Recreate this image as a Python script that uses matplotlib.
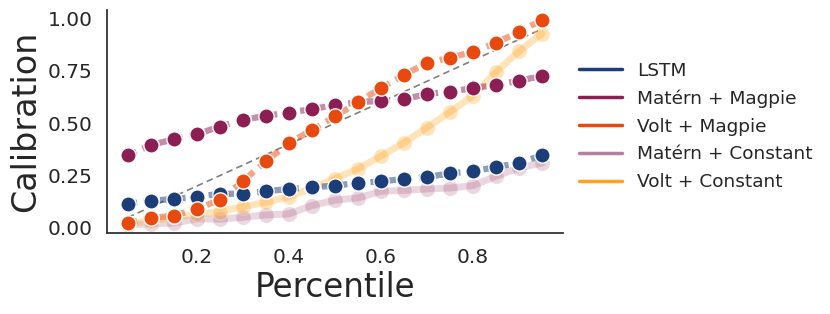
import matplotlib
matplotlib.use("Agg")
import matplotlib.pyplot as plt
import seaborn as sns
from matplotlib.lines import Line2D

sns.set_style("white")
plt.rcParams['font.family'] = ['DejaVu Sans']

percentile = [0.05, 0.10, 0.15, 0.20, 0.25, 0.30, 0.35, 0.40, 0.45, 0.50,
              0.55, 0.60, 0.65, 0.70, 0.75, 0.80, 0.85, 0.90, 0.95]

lstm = [0.115, 0.130, 0.138, 0.149, 0.163, 0.163, 0.175, 0.186, 0.194, 0.202,
        0.215, 0.222, 0.234, 0.244, 0.260, 0.271, 0.290, 0.311, 0.346]
matern_magpie = [0.346, 0.396, 0.423, 0.447, 0.484, 0.516, 0.535, 0.551, 0.567, 0.587,
                 0.600, 0.607, 0.615, 0.639, 0.651, 0.667, 0.683, 0.703, 0.725]
volt_magpie = [0.025, 0.047, 0.059, 0.090, 0.135, 0.223, 0.319, 0.404, 0.468, 0.532,
               0.600, 0.667, 0.731, 0.787, 0.813, 0.840, 0.883, 0.936, 0.992]
matern_const = [0.015, 0.020, 0.024, 0.043, 0.042, 0.051, 0.062, 0.067, 0.107, 0.133,
                0.143, 0.175, 0.179, 0.186, 0.191, 0.202, 0.247, 0.287, 0.310]
volt_const = [0.020, 0.035, 0.050, 0.065, 0.078, 0.102, 0.122, 0.150, 0.190, 0.236,
              0.282, 0.343, 0.407, 0.479, 0.554, 0.631, 0.744, 0.843, 0.928]

labels = ['LSTM', 'Matérn + Magpie', 'Volt + Magpie', 'Matérn + Constant', 'Volt + Constant']
colors = ['#1b3d78', '#8b1e52', '#e8490f', '#b57fa2', '#ffa31a']

fig = plt.figure(figsize=(8.3, 3.14), dpi=100)
ax = fig.add_axes([0.129, 0.258, 0.549, 0.71])

# ideal calibration
ax.plot([0.05, 0.95], [0.05, 0.95], color='grey', lw=1.2, ls=(0, (4, 2.5)), zorder=1)

# constant-noise models, faded
ax.plot(percentile, matern_const, color='#8b1e52', lw=5, alpha=0.18,
        marker='o', ms=11, mec='white', mew=1, zorder=2)
ax.plot(percentile, volt_const, color='#ffa31a', lw=5, alpha=0.3,
        marker='o', ms=11, mec='white', mew=1, zorder=2)

# main models: dashed translucent line, solid markers
for vals, c in [(lstm, colors[0]), (matern_magpie, colors[1]), (volt_magpie, colors[2])]:
    ax.plot(percentile, vals, color=c, lw=4.5, alpha=0.5, ls=(0, (1.5, 1.1)), zorder=3)
    ax.plot(percentile, vals, color=c, lw=0, marker='o', ms=11,
            mec='white', mew=1, zorder=4)

ax.set_xlim(0.005, 0.995)
ax.set_ylim(-0.024, 1.04)
ax.set_xticks([0.2, 0.4, 0.6, 0.8])
ax.set_yticks([0.0, 0.25, 0.5, 0.75, 1.0])
ax.tick_params(labelsize=14.5, pad=7)
ax.set_xlabel('Percentile', fontsize=23.5, labelpad=3)
ax.set_ylabel('Calibration', fontsize=24, labelpad=4)
sns.despine(ax=ax)
for s in ['left', 'bottom']:
    ax.spines[s].set_color('#333333')
    ax.spines[s].set_linewidth(1.3)

handles = [Line2D([], [], color=c, lw=2.5) for c in colors]
ax.legend(handles, labels, loc='center left', bbox_to_anchor=(1.0, 0.478),
          frameon=False, fontsize=13.3, handlelength=2.3, labelspacing=0.53)

fig.savefig('out.png', dpi=100)
